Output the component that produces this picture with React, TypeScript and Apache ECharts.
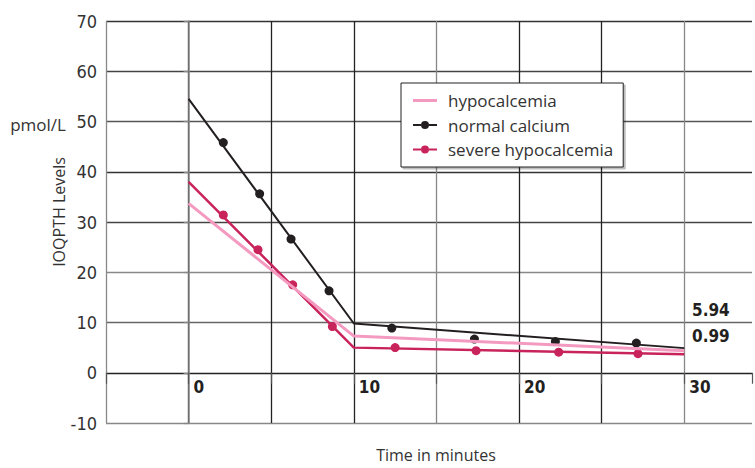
import React, { useEffect, useRef } from "react";
import * as echarts from "echarts";

// Regression lines (time in minutes, IOQPTH pmol/L)
const hypoLine: [number, number][] = [[0, 33.7], [10, 7.3], [30, 4.4]];
const normalLine: [number, number][] = [[0, 54.5], [10, 9.8], [30, 4.9]];
const severeLine: [number, number][] = [[0, 38.0], [10, 5.0], [30, 3.7]];

// Measured points
const normalPoints: [number, number][] = [
  [2.1, 45.8], [4.3, 35.6], [6.2, 26.6], [8.5, 16.3],
  [12.3, 8.9], [17.3, 6.7], [22.2, 6.2], [27.1, 5.9],
];
const severePoints: [number, number][] = [
  [2.1, 31.4], [4.2, 24.5], [6.3, 17.5], [8.7, 9.2],
  [12.5, 5.0], [17.4, 4.4], [22.4, 4.1], [27.2, 3.8],
];

const seriesNames = ["hypocalcemia", "normal calcium", "severe hypocalcemia"];
const xLabelValues = [0, 10, 20, 30];
const annotations = ["5.94", "0.99"];

const PINK = "#f49ac1";
const BLACK = "#231f20";
const CRIMSON = "#c8235a";

const NARROW = "'Liberation Sans Narrow', 'DejaVu Sans Condensed', 'Liberation Sans', sans-serif";
const HUMAN = "'Open Sans', 'Noto Sans', sans-serif";

const ICON_LINE = "path://M0,0 H24 V3 H0 Z";
const ICON_LINE_DOT =
  "path://M0,3 H8 V5 H0 Z M16,3 H24 V5 H16 Z M8,4 A4,4 0 1 0 16,4 A4,4 0 1 0 8,4 Z";

export default function App() {
  const ref = useRef<HTMLDivElement>(null);
  useEffect(() => {
    document.body.style.margin = "0";
    const chart = echarts.init(ref.current!, null, { renderer: "svg" });
    const option: any = {
      animation: false,
      backgroundColor: "#ffffff",
      grid: { left: 106, top: 21, right: 0, bottom: 45, containLabel: false },
      xAxis: {
        type: "value",
        min: -5,
        max: 34.1,
        interval: 5,
        axisLine: { show: false },
        axisTick: { show: true, length: 11, lineStyle: { color: "#555", width: 1.2 } },
        axisLabel: {
          margin: -45,
          align: "left",
          padding: [0, 0, 0, 5],
          fontFamily: NARROW,
          fontWeight: "bold",
          fontSize: 17,
          color: "#231f20",
          formatter: (v: number) => (xLabelValues.includes(v) ? String(v) : ""),
        },
        splitLine: {
          show: true,
          showMaxLine: false,
          lineStyle: {
            width: 1.3,
            color: ["#888", "#222", "#222", "#222", "#888", "#222", "#222", "#888", "#888"],
          },
        },
      },
      yAxis: {
        type: "value",
        min: -10,
        max: 70,
        interval: 10,
        axisLine: { show: true, lineStyle: { color: "#888", width: 1.5 } },
        axisTick: { show: true, length: 5, lineStyle: { color: "#888", width: 1.3 } },
        axisLabel: {
          margin: 9,
          fontFamily: NARROW,
          fontSize: 18,
          color: "#333",
        },
        splitLine: {
          show: true,
          lineStyle: {
            width: 1.3,
            color: ["#888", "#222", "#666", "#888", "#444", "#333", "#555", "#444", "#333"],
          },
        },
      },
      legend: {
        orient: "vertical",
        left: 401,
        top: 83,
        padding: [9, 10, 9, 12],
        itemWidth: 24,
        itemHeight: 14,
        itemGap: 7.5,
        backgroundColor: "#ffffff",
        borderColor: "#231f20",
        borderWidth: 1,
        shadowColor: "rgba(0,0,0,0.25)",
        shadowBlur: 1,
        shadowOffsetX: 2,
        shadowOffsetY: 2,
        itemStyle: { borderWidth: 0 },
        textStyle: {
          fontFamily: HUMAN,
          fontSize: 17,
          color: "#333",
          padding: [0, 0, 0, 6],
        },
        data: [
          { name: seriesNames[0], icon: ICON_LINE },
          { name: seriesNames[1], icon: ICON_LINE_DOT },
          { name: seriesNames[2], icon: ICON_LINE_DOT },
        ],
      },
      graphic: [
        {
          type: "text",
          x: 38,
          y: 124,
          style: { text: "pmol/L", font: `17px ${HUMAN}`, fill: "#333", align: "center", verticalAlign: "middle" },
        },
        {
          type: "text",
          x: 59,
          y: 212,
          rotation: Math.PI / 2,
          style: { text: "IOQPTH Levels", font: `16px ${HUMAN}`, fill: "#333", align: "center", verticalAlign: "middle" },
        },
        {
          type: "text",
          x: 436,
          y: 455,
          style: { text: "Time in minutes", font: `16px ${HUMAN}`, fill: "#333", align: "center", verticalAlign: "middle" },
        },
        {
          type: "text",
          x: 692,
          y: 310,
          style: { text: annotations[0], font: `bold 17px ${NARROW}`, fill: "#231f20", align: "left", verticalAlign: "middle" },
        },
        {
          type: "text",
          x: 692,
          y: 336,
          style: { text: annotations[1], font: `bold 17px ${NARROW}`, fill: "#231f20", align: "left", verticalAlign: "middle" },
        },
      ],
      series: [
        {
          name: seriesNames[1],
          type: "line",
          data: normalLine,
          symbol: "none",
          color: BLACK,
          lineStyle: { color: BLACK, width: 2 },
          z: 2,
        },
        {
          name: seriesNames[2],
          type: "line",
          data: severeLine,
          symbol: "none",
          color: CRIMSON,
          lineStyle: { color: CRIMSON, width: 2.5 },
          z: 2,
        },
        {
          name: seriesNames[1],
          type: "scatter",
          data: normalPoints,
          symbol: "circle",
          symbolSize: 9,
          itemStyle: { color: BLACK, opacity: 1 },
          z: 3,
        },
        {
          name: seriesNames[2],
          type: "scatter",
          data: severePoints,
          symbol: "circle",
          symbolSize: 9,
          itemStyle: { color: CRIMSON, opacity: 1 },
          z: 3,
        },
        {
          name: seriesNames[0],
          type: "line",
          data: hypoLine,
          symbol: "none",
          color: PINK,
          lineStyle: { color: PINK, width: 3 },
          z: 4,
        },
      ],
    };
    chart.setOption(option);
    return () => chart.dispose();
  }, []);
  return (
    <div
      ref={ref}
      style={{ position: "absolute", left: 0, top: 0, width: 755, height: 468 }}
    />
  );
}
